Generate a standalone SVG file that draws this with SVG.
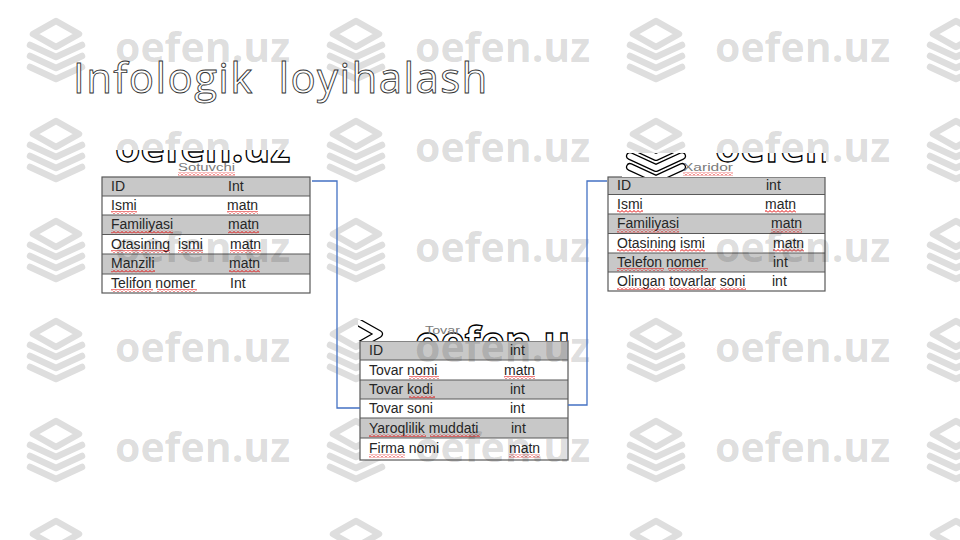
<svg xmlns="http://www.w3.org/2000/svg" xmlns:xlink="http://www.w3.org/1999/xlink" width="960" height="540" viewBox="0 0 960 540">
<style>
.wm{font-family:"Open Sans",sans-serif;font-weight:700;font-size:41px;fill:#000;fill-opacity:.14}
.wo{font-family:"Open Sans",sans-serif;font-weight:700;font-size:41px;fill:#fff;stroke:#000;stroke-width:1.3}
.ttl{font-family:"Open Sans",sans-serif;font-size:42px;letter-spacing:1.4px;fill:#fff;stroke:#333;stroke-width:.9}
.t{font-family:"Liberation Sans",Arial,sans-serif;font-size:14px;fill:#262626}
.lb{font-family:"Liberation Sans",Arial,sans-serif;font-size:11px;fill:#7a7a7a}
.g{fill:#c8c8c8}
.w{fill:#fff}
.ln{stroke:#595959;stroke-width:1.2}
.bd{fill:none;stroke:#595959;stroke-width:1.2}
.sq{fill:url(#wave)}
.cn{fill:none;stroke:#4472c4;stroke-width:1.3}
</style>
<defs>
<pattern id="wave" width="4" height="3" patternUnits="userSpaceOnUse"><path d="M0,2.5 L2,0.5 L4,2.5" fill="none" stroke="#e00000" stroke-width="1"/></pattern>
<g id="ic" fill="none" stroke-linecap="round" stroke-linejoin="round">
<path d="M56,21 L79,34 L56,47 L33,34 Z"/>
<path d="M30,45 L56,57 L82,45"/>
<path d="M30,56 L56,68 L82,56"/>
<path d="M30,67 L56,79 L82,67"/>
</g>
<clipPath id="cA"><rect x="104" y="150" width="200" height="26"/></clipPath>
<clipPath id="cB"><rect x="622" y="153" width="204" height="24"/></clipPath>
<clipPath id="cC"><rect x="358" y="320" width="210" height="21"/></clipPath>
</defs>
<rect width="960" height="540" fill="#fff"/>
<g id="wm-icons" stroke="#dedede" stroke-width="6.5">
<use href="#ic" x="0" y="0"/><use href="#ic" x="300" y="0"/><use href="#ic" x="600" y="0"/><use href="#ic" x="900" y="0"/>
<use href="#ic" x="0" y="100"/><use href="#ic" x="300" y="100"/><use href="#ic" x="600" y="100"/><use href="#ic" x="900" y="100"/>
<use href="#ic" x="0" y="200"/><use href="#ic" x="300" y="200"/><use href="#ic" x="600" y="200"/><use href="#ic" x="900" y="200"/>
<use href="#ic" x="0" y="300"/><use href="#ic" x="300" y="300"/><use href="#ic" x="600" y="300"/><use href="#ic" x="900" y="300"/>
<use href="#ic" x="0" y="400"/><use href="#ic" x="300" y="400"/><use href="#ic" x="600" y="400"/><use href="#ic" x="900" y="400"/>
<use href="#ic" x="0" y="500"/><use href="#ic" x="300" y="500"/><use href="#ic" x="600" y="500"/><use href="#ic" x="900" y="500"/>
</g>

<g id="sotuvchi">
<rect class="g" x="102" y="177" width="208" height="19"/>
<rect class="w" x="102" y="196" width="208" height="19"/>
<rect class="g" x="102" y="215" width="208" height="19.5"/>
<rect class="w" x="102" y="234.5" width="208" height="19.5"/>
<rect class="g" x="102" y="254" width="208" height="20"/>
<rect class="w" x="102" y="274" width="208" height="19"/>
<path class="ln" d="M102,196H310M102,215H310M102,234.5H310M102,254H310M102,274H310"/>
<rect class="bd" x="102" y="177" width="208" height="116"/>
<text class="t" x="111" y="190.5">ID</text><text class="t" x="228" y="190.5">Int</text>
<text class="t" x="111" y="209.5">Ismi</text><text class="t" x="227" y="209.5">matn</text>
<text class="t" x="111" y="229">Familiyasi</text><text class="t" x="228" y="229">matn</text>
<text class="t" x="111" y="248.5" xml:space="preserve">Otasining  ismi</text><text class="t" x="230" y="248.5">matn</text>
<text class="t" x="111" y="268">Manzili</text><text class="t" x="229" y="268">matn</text>
<text class="t" x="111" y="287.5">Telifon nomer</text><text class="t" x="230" y="287.5">Int</text>
<rect class="sq" x="111" y="211" width="26" height="3"/><rect class="sq" x="227" y="211" width="31" height="3"/>
<rect class="sq" x="111" y="230.5" width="62" height="3"/><rect class="sq" x="228" y="230.5" width="31" height="3"/>
<rect class="sq" x="111" y="250" width="59" height="3"/><rect class="sq" x="178" y="250" width="25" height="3"/><rect class="sq" x="230" y="250" width="31" height="3"/>
<rect class="sq" x="111" y="269.5" width="44" height="3"/><rect class="sq" x="229" y="269.5" width="31" height="3"/>
<rect class="sq" x="111" y="289" width="42" height="3"/><rect class="sq" x="157" y="289" width="40" height="3"/>
</g>

<g id="xaridor">
<rect class="g" x="608" y="177" width="217" height="17.5"/>
<rect class="w" x="608" y="194.5" width="217" height="19.5"/>
<rect class="g" x="608" y="214" width="217" height="19.5"/>
<rect class="w" x="608" y="233.5" width="217" height="19.5"/>
<rect class="g" x="608" y="253" width="217" height="19"/>
<rect class="w" x="608" y="272" width="217" height="19"/>
<path class="ln" d="M608,194.5H825M608,214H825M608,233.5H825M608,253H825M608,272H825"/>
<rect class="bd" x="608" y="177" width="217" height="114"/>
<text class="t" x="617" y="190">ID</text><text class="t" x="766" y="190">int</text>
<text class="t" x="617" y="208.5">Ismi</text><text class="t" x="765" y="208.5">matn</text>
<text class="t" x="617" y="228">Familiyasi</text><text class="t" x="771" y="228">matn</text>
<text class="t" x="617" y="247.5">Otasining ismi</text><text class="t" x="773" y="247.5">matn</text>
<text class="t" x="617" y="266.5">Telefon nomer</text><text class="t" x="773" y="266.5">int</text>
<text class="t" x="617" y="285.5">Olingan tovarlar soni</text><text class="t" x="772" y="285.5">int</text>
<rect class="sq" x="617" y="210" width="26" height="3"/><rect class="sq" x="765" y="210" width="31" height="3"/>
<rect class="sq" x="617" y="229.5" width="62" height="3"/><rect class="sq" x="771" y="229.5" width="31" height="3"/>
<rect class="sq" x="617" y="249" width="59" height="3"/><rect class="sq" x="680" y="249" width="25" height="3"/><rect class="sq" x="773" y="249" width="31" height="3"/>
<rect class="sq" x="617" y="268" width="47" height="3"/><rect class="sq" x="668" y="268" width="40" height="3"/>
<rect class="sq" x="617" y="287" width="48" height="3"/><rect class="sq" x="669" y="287" width="47" height="3"/><rect class="sq" x="720" y="287" width="26" height="3"/>
</g>

<g id="tovar">
<rect class="g" x="360" y="341" width="208" height="19"/>
<rect class="w" x="360" y="360" width="208" height="20"/>
<rect class="g" x="360" y="380" width="208" height="19"/>
<rect class="w" x="360" y="399" width="208" height="19"/>
<rect class="g" x="360" y="418" width="208" height="20"/>
<rect class="w" x="360" y="438" width="208" height="22"/>
<path class="ln" d="M360,360H568M360,380H568M360,399H568M360,418H568M360,438H568"/>
<rect class="bd" x="360" y="341" width="208" height="119"/>
<text class="t" x="369" y="355">ID</text><text class="t" x="510" y="355">int</text>
<text class="t" x="369" y="374.5">Tovar nomi</text><text class="t" x="504" y="374.5">matn</text>
<text class="t" x="369" y="394">Tovar kodi</text><text class="t" x="510" y="394">int</text>
<text class="t" x="369" y="413">Tovar soni</text><text class="t" x="510" y="413">int</text>
<text class="t" x="369" y="432.5">Yaroqlilik muddati</text><text class="t" x="511" y="432.5">int</text>
<text class="t" x="369" y="453">Firma nomi</text><text class="t" x="509" y="453">matn</text>
<rect class="sq" x="409" y="376" width="30" height="3"/><rect class="sq" x="504" y="376" width="31" height="3"/>
<rect class="sq" x="409" y="395.5" width="26" height="3"/>
<rect class="sq" x="369" y="434" width="57" height="3"/><rect class="sq" x="430" y="434" width="50" height="3"/>
<rect class="sq" x="369" y="454.5" width="36" height="3"/><rect class="sq" x="509" y="454.5" width="31" height="3"/>
</g>

<g id="wm-text">
<text class="wm" x="115" y="62">oefen.uz</text><text class="wm" x="415" y="62">oefen.uz</text><text class="wm" x="715" y="62">oefen.uz</text>
<text class="wm" x="115" y="162">oefen.uz</text><text class="wm" x="415" y="162">oefen.uz</text><text class="wm" x="715" y="162">oefen.uz</text>
<text class="wm" x="115" y="262">oefen.uz</text><text class="wm" x="415" y="262">oefen.uz</text><text class="wm" x="715" y="262">oefen.uz</text>
<text class="wm" x="115" y="362">oefen.uz</text><text class="wm" x="415" y="362">oefen.uz</text><text class="wm" x="715" y="362">oefen.uz</text>
<text class="wm" x="115" y="462">oefen.uz</text><text class="wm" x="415" y="462">oefen.uz</text><text class="wm" x="715" y="462">oefen.uz</text>
</g>

<g id="label-sotuvchi">
<g clip-path="url(#cA)">
<rect x="104" y="150" width="200" height="26" fill="#fff"/>
<text class="wo" x="115" y="162">oefen.uz</text>
</g>
<text class="lb" x="178" y="171" textLength="57" lengthAdjust="spacingAndGlyphs">Sotuvchi</text>
<rect class="sq" x="178" y="172.5" width="57" height="3"/>
</g>
<g id="label-xaridor">
<g clip-path="url(#cB)">
<rect x="622" y="153" width="204" height="24" fill="#fff"/>
<use href="#ic" x="600" y="100" stroke="#000" stroke-width="8"/>
<use href="#ic" x="600" y="100" stroke="#fff" stroke-width="5.5"/>
<text class="wo" x="715" y="162">oefen.uz</text>
</g>
<text class="lb" x="683" y="171" textLength="50" lengthAdjust="spacingAndGlyphs">Xaridor</text>
<rect class="sq" x="683" y="172.5" width="50" height="3"/>
</g>
<g id="label-tovar">
<g clip-path="url(#cC)">
<rect x="358" y="320" width="210" height="21" fill="#fff"/>
<use href="#ic" x="300" y="300" stroke="#000" stroke-width="8"/>
<use href="#ic" x="300" y="300" stroke="#fff" stroke-width="5.5"/>
<text class="wo" x="415" y="356">oefen.uz</text>
</g>
<text class="lb" x="425" y="334" textLength="35" lengthAdjust="spacingAndGlyphs">Tovar</text>
</g>

<g id="connectors">
<path class="cn" d="M312,181H337V408H360"/>
<path class="cn" d="M568,405H587V181H607"/>
</g>

<g id="title">
<text class="ttl" x="73" y="93" xml:space="preserve">Infologik  loyihalash</text>
</g>
</svg>
